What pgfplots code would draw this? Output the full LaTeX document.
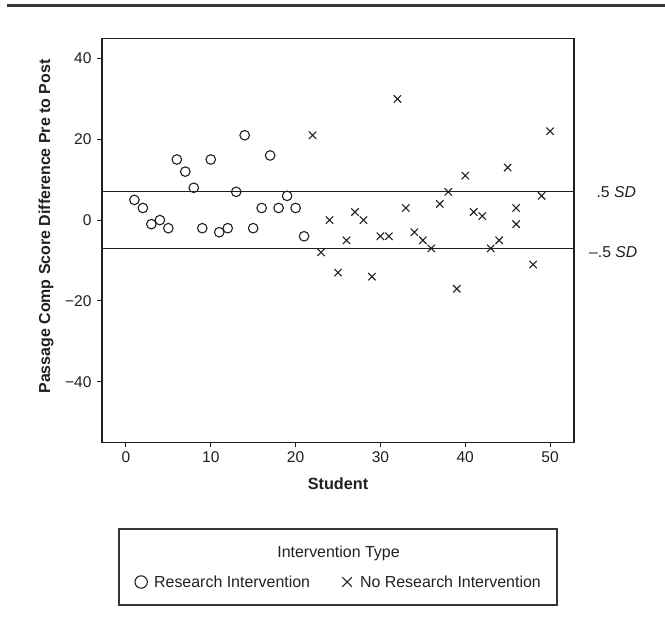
\documentclass[border=0pt]{standalone}
\usepackage{fontspec}
\setmainfont{Liberation Sans}
\usepackage{pgfplots}
\pgfplotsset{compat=1.18}
\definecolor{ink}{HTML}{231F20}
\begin{document}
\begin{tikzpicture}
\useasboundingbox (0,0) rectangle (665bp,-634bp);
\draw[line width=3bp, color=ink!90] (7bp,-5.5bp) -- (665bp,-5.5bp);
\begin{axis}[
  at={(102bp,-38.3bp)}, anchor=north west,
  scale only axis, width=472bp, height=404bp,
  xmin=-2.82, xmax=52.82, ymin=-55, ymax=45,
  xtick={0,10,20,30,40,50},
  ytick={-40,-20,0,20,40},
  yticklabels={−40,−20,0,20,40},
  /pgf/number format/assume math mode=true,
  tick align=outside, major tick length=5bp,
  xtick pos=bottom, ytick pos=left,
  axis line style={line width=1.3bp, color=ink},
  every tick/.style={line width=1bp, color=ink},
  tick label style={font=\fontsize{15.6}{17}\selectfont, color=ink},
  xticklabel style={yshift=-1bp},
  yticklabel style={xshift=-2bp},
  xlabel={\bfseries Student},
  ylabel={\bfseries Passage Comp Score Difference Pre to Post},
  every axis x label/.style={at={(axis description cs:0.5,-0.103)}, anchor=center, font=\fontsize{16.3}{18}\selectfont, color=ink},
  every axis y label/.style={at={(axis description cs:-0.1186,0.534)}, anchor=center, rotate=90, font=\fontsize{16}{18}\selectfont, color=ink},
  clip=false,
  legend columns=2,
  legend style={at={(axis description cs:0.500,-0.3458)}, anchor=center, draw=none, fill=none,
    font=\fontsize{16}{18}\selectfont, text=ink,
    /tikz/every even column/.append style={column sep=27bp}},
  legend cell align=left,
  legend image code/.code={\path[draw=none,fill=none] (0bp,-4bp) (19bp,4bp); \draw[#1] plot coordinates {(8bp,0bp)};},
]
\addplot[only marks, mark=o, mark size=4.8bp, mark options={line width=1.1bp, color=ink},
  legend image post style={mark size=6.2bp}] coordinates {
(1,5) (2,3) (3,-1) (4,0) (5,-2) (6,15) (7,12) (8,8) (9,-2) (10,15)
(11,-3) (12,-2) (13,7) (14,21) (15,-2) (16,3) (17,16) (18,3) (19,6) (20,3) (21,-4)
};
\addlegendentry{Research Intervention}
\addplot[only marks, mark=x, mark size=5.2bp, mark options={line width=1.1bp, color=ink},
  legend image post style={mark size=6.8bp}] coordinates {
(22,21) (23,-8) (24,0) (25,-13) (26,-5) (27,2) (28,0) (29,-14) (30,-4) (31,-4)
(32,30) (33,3) (34,-3) (35,-5) (36,-7) (37,4) (38,7) (39,-17) (40,11) (41,2)
(42,1) (43,-7) (44,-5) (45,13) (46,3) (46,-1) (48,-11) (49,6) (50,22)
};
\addlegendentry{No Research Intervention}
\addplot[no marks, line width=1.1bp, color=ink, forget plot] coordinates {(-2.82,7) (52.82,7)};
\addplot[no marks, line width=1.1bp, color=ink, forget plot] coordinates {(-2.82,-7) (52.82,-7)};
\node[anchor=east, inner sep=0pt, font=\fontsize{15.8}{18}\selectfont, text=ink] at (axis cs:60.15,7) {.5 \textit{SD}};
\node[anchor=east, inner sep=0pt, font=\fontsize{15.8}{18}\selectfont, text=ink] at (axis cs:60.3,-8) {–.5 \textit{SD}};
\end{axis}
\draw[line width=1.2bp, color=ink!90] (119bp,-529bp) rectangle (557bp,-605bp);
\node[font=\fontsize{16}{18}\selectfont, text=ink] at (338.5bp,-553bp) {Intervention Type};
\end{tikzpicture}
\end{document}
